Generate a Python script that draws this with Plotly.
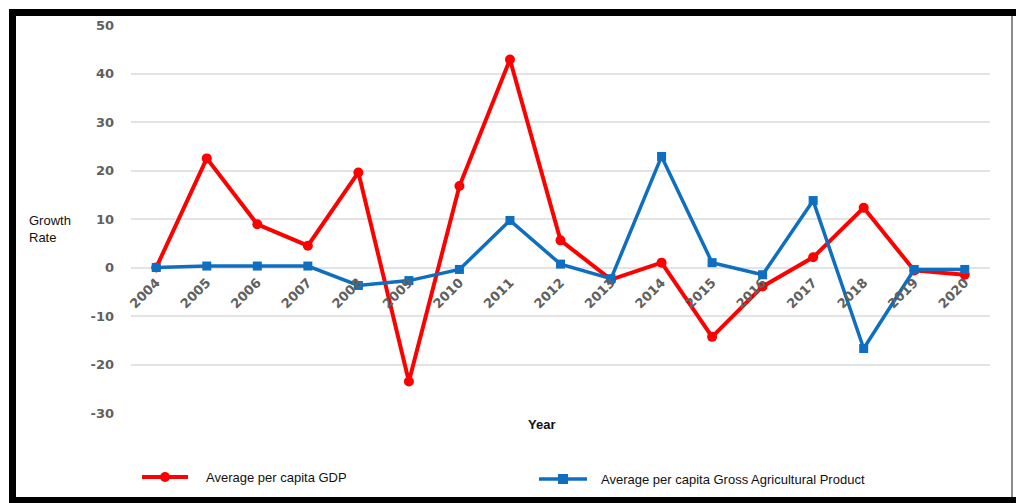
import plotly.graph_objects as go

# Growth rates (%) by year
years = ["2004", "2005", "2006", "2007", "2008", "2009", "2010", "2011", "2012",
         "2013", "2014", "2015", "2016", "2017", "2018", "2019", "2020"]
gdp_growth = [0, 22.5, 8.9, 4.5, 19.6, -23.5, 16.8, 42.9, 5.6,
              -2.5, 1.0, -14.3, -3.9, 2.1, 12.3, -0.6, -1.5]
agri_growth = [0, 0.3, 0.3, 0.3, -3.7, -2.7, -0.4, 9.7, 0.7,
               -2.3, 22.9, 1.0, -1.5, 13.8, -16.7, -0.4, -0.4]
y_ticks = [-30, -20, -10, 0, 10, 20, 30, 40, 50]

gdp_name = "Average per capita GDP"
agri_name = "Average per capita Gross Agricultural Product"

RED = "#FF0000"
BLUE = "#0E6FC1"

# plot-area geometry in pixels (page is 1016 x 503)
L, R, T, B = 131, 990, 25, 413
W, H = R - L, B - T


def px(x):
    return (x - L) / W


def py(y):
    return (B - y) / H


fig = go.Figure()
fig.add_trace(go.Scatter(
    x=years, y=gdp_growth, name=gdp_name, mode="lines+markers",
    line=dict(color=RED, width=4),
    marker=dict(symbol="circle", size=10, color=RED),
    showlegend=False,
))
fig.add_trace(go.Scatter(
    x=years, y=agri_growth, name=agri_name, mode="lines+markers",
    line=dict(color=BLUE, width=3.5),
    marker=dict(symbol="square", size=9, color=BLUE),
    showlegend=False,
))

x_tick_font = dict(family="DejaVu Sans", size=13, color="#606060", weight="bold")
y_tick_font = dict(family="DejaVu Sans", size=13, color="#606060", weight="bold")
y_lo, y_hi = y_ticks[0], y_ticks[-1]

fig.update_layout(
    width=1016, height=503,
    margin=dict(l=L, r=1016 - R, t=T, b=503 - B),
    paper_bgcolor="white", plot_bgcolor="white",
    xaxis=dict(
        type="category", range=[-0.5, len(years) - 0.5],
        tickangle=-45, tickfont=x_tick_font,
        showgrid=False, showline=False, zeroline=False, ticks="",
        anchor="free", position=(0 - y_lo) / (y_hi - y_lo),
        ticklabelstandoff=4,
    ),
    yaxis=dict(
        range=[y_lo, y_hi], tickvals=y_ticks,
        ticktext=[str(v) for v in y_ticks], tickfont=y_tick_font,
        showgrid=True, gridcolor="#e3e3e3", gridwidth=2,
        zeroline=False, showline=False, ticks="",
        ticklabelstandoff=16,
    ),
)

label_font = dict(family="Liberation Sans", size=13, color="#111111")

# axis captions
fig.add_annotation(xref="paper", yref="paper", x=px(27), y=py(229),
                   xanchor="left", yanchor="middle", align="left",
                   text="Growth<br>Rate", showarrow=False, font=label_font)
fig.add_annotation(xref="paper", yref="paper", x=px(541), y=py(425),
                   xanchor="center", yanchor="middle",
                   text="<b>Year</b>", showarrow=False, font=label_font)

# legend drawn below the plot
shapes = []
legend_rows = [
    (gdp_name, RED, 4, "circle", 142, 188, 477, 204),
    (agri_name, BLUE, 3.5, "square", 539, 587, 479, 599),
]
for name, color, lw, sym, x0, x1, yc, tx in legend_rows:
    shapes.append(dict(type="line", xref="paper", yref="paper",
                       x0=px(x0), x1=px(x1), y0=py(yc), y1=py(yc),
                       line=dict(color=color, width=lw)))
    cx = (x0 + x1) / 2
    shapes.append(dict(type="circle" if sym == "circle" else "rect",
                       xref="paper", yref="paper",
                       x0=px(cx - 5), x1=px(cx + 5), y0=py(yc - 5), y1=py(yc + 5),
                       fillcolor=color, line=dict(color=color, width=0)))
    fig.add_annotation(xref="paper", yref="paper", x=px(tx), y=py(yc),
                       xanchor="left", yanchor="middle", text=name,
                       showarrow=False, font=label_font)

# outer frame
frame = [
    (9, 1016, 9, 16, "black"),
    (9, 16, 9, 503, "black"),
    (9, 1016, 497, 503, "black"),
    (1011, 1013, 16, 497, "#8a8a8a"),
]
for x0, x1, y0, y1, c in frame:
    shapes.append(dict(type="rect", xref="paper", yref="paper",
                       x0=px(x0), x1=px(x1), y0=py(y0), y1=py(y1),
                       fillcolor=c, line=dict(width=0), layer="above"))

fig.update_layout(shapes=shapes)
fig.write_html("out.html")
